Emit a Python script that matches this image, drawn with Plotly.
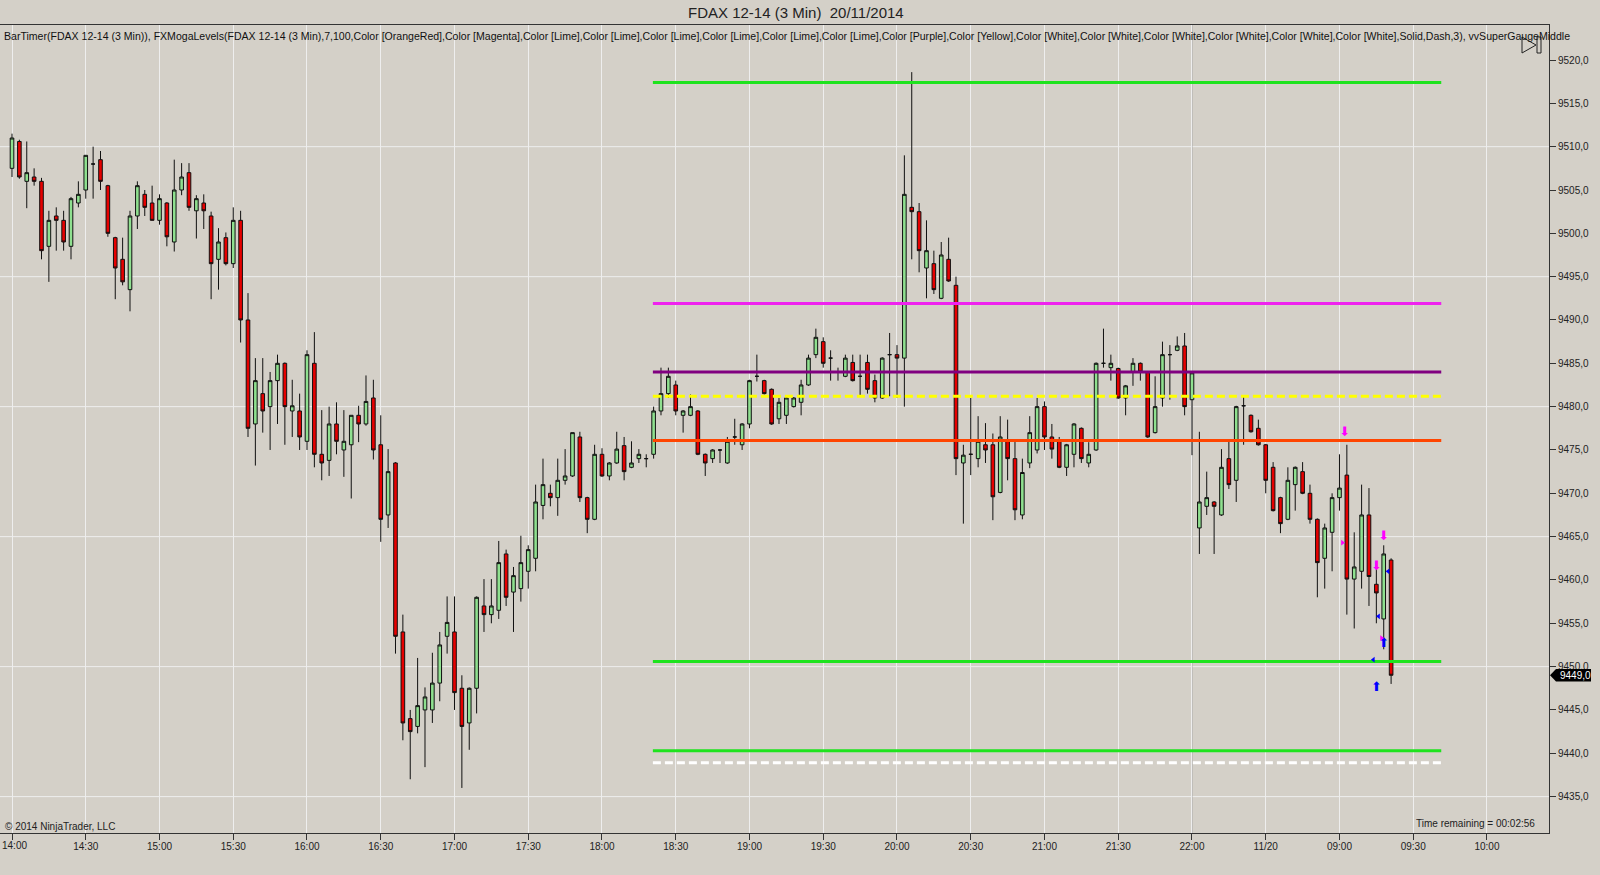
import plotly.graph_objects as go

# ---------------- data (bar index 0 = 14:00, 3-minute bars) ----------------
opens = [9507.5,9510.6,9506.0,9506.5,9506.0,9498.5,9502.0,9501.5,9498.5,9503.5,
         9505.0,9508.0,9508.5,9505.5,9499.5,9497.0,9493.5,9502.0,9504.5,9503.5,
         9501.5,9503.5,9499.0,9505.0,9507.0,9502.6,9503.5,9502.0,9497.0,9499.5,
         9496.5,9501.5,9490.0,9478.0,9481.5,9480.0,9483.0,9485.0,9479.5,9479.5,
         9476.0,9485.0,9474.5,9473.8,9478.0,9475.0,9475.6,9479.0,9478.0,9481.0,
         9475.6,9467.5,9473.5,9454.0,9444.0,9443.1,9445.0,9445.0,9448.1,9453.5,
         9454.0,9447.5,9443.5,9447.5,9457.0,9456.0,9456.5,9463.0,9458.6,9459.0,
         9461.0,9462.5,9468.6,9470.0,9469.5,9471.5,9472.0,9476.5,9469.5,9467.0,
         9474.5,9472.0,9473.5,9475.5,9473.0,9474.0,9474.0,9474.5,9479.5,9481.5,
         9482.5,9479.0,9479.0,9479.5,9474.5,9474.0,9475.0,9473.5,9476.5,9475.6,
         9478.0,9483.5,9483.0,9482.0,9478.6,9479.0,9480.0,9480.5,9482.5,9486.0,
         9487.5,9485.6,9484.0,9483.5,9485.1,9483.5,9485.1,9483.0,9481.0,9486.0,
         9486.0,9485.6,9503.0,9502.5,9496.0,9496.5,9492.5,9497.0,9494.0,9473.5,
         9474.5,9474.0,9475.6,9475.6,9470.1,9476.0,9474.0,9467.5,9473.5,9475.0,
         9480.0,9476.5,9476.0,9473.0,9474.5,9477.5,9473.5,9475.0,9485.0,9484.5,
         9484.4,9481.0,9484.0,9485.0,9484.0,9477.0,9481.0,9486.0,9486.5,9487.0,
         9480.8,9466.0,9468.5,9469.0,9467.5,9474.0,9471.5,9480.1,9479.0,9477.5,
         9475.6,9473.0,9469.5,9467.0,9471.0,9472.5,9470.0,9467.0,9462.5,9465.5,
         9469.5,9472.1,9460.1,9461.0,9467.5,9459.5,9455.5,9462.3]
highs = [9511.5,9510.8,9510.6,9507.5,9506.4,9502.6,9503.0,9502.6,9504.2,9506.0,
         9509.0,9510.0,9509.5,9505.6,9499.6,9499.5,9502.6,9506.0,9505.0,9505.5,
         9504.5,9503.6,9508.5,9508.1,9508.1,9504.4,9504.5,9502.5,9500.6,9500.1,
         9503.0,9502.6,9493.1,9485.6,9485.6,9484.0,9486.0,9485.1,9483.1,9481.5,
         9486.5,9488.6,9479.6,9480.0,9480.5,9479.6,9479.0,9480.1,9483.6,9483.1,
         9479.0,9475.1,9473.6,9456.0,9445.0,9451.0,9447.6,9451.6,9454.0,9458.1,
         9458.1,9449.0,9447.6,9458.1,9460.1,9460.1,9464.5,9463.5,9461.5,9465.1,
         9464.0,9471.0,9474.0,9471.0,9474.0,9475.1,9477.0,9477.1,9469.6,9475.6,
         9475.2,9473.6,9477.1,9476.5,9476.0,9475.1,9474.5,9480.0,9484.5,9484.5,
         9483.0,9479.6,9481.4,9479.6,9474.6,9475.1,9475.1,9476.5,9478.6,9478.1,
         9483.1,9486.0,9483.1,9482.1,9481.0,9481.1,9481.1,9483.1,9486.0,9489.0,
         9488.0,9486.5,9484.5,9486.0,9486.0,9486.0,9486.0,9483.7,9485.7,9488.5,
         9487.1,9509.0,9518.6,9503.5,9501.5,9498.0,9499.0,9499.5,9495.0,9475.6,
         9481.0,9478.9,9478.1,9476.9,9478.9,9478.5,9476.0,9474.0,9478.9,9481.0,
         9480.6,9478.0,9476.5,9475.7,9478.1,9477.6,9475.9,9485.1,9489.0,9486.0,
         9484.5,9482.5,9485.6,9485.1,9484.1,9483.5,9487.5,9487.1,9488.1,9488.5,
         9484.0,9477.1,9472.5,9469.1,9475.1,9476.0,9480.1,9481.1,9479.1,9478.5,
         9475.7,9473.6,9469.6,9473.0,9473.1,9473.6,9471.0,9467.1,9466.5,9470.0,
         9474.5,9475.6,9465.5,9471.0,9470.6,9462.0,9464.0,9462.5]
lows = [9506.5,9506.3,9502.9,9505.5,9497.0,9494.4,9498.0,9498.0,9497.0,9503.0,
        9504.0,9504.0,9505.0,9499.6,9492.4,9494.0,9491.0,9500.5,9502.0,9501.5,
        9501.0,9498.5,9497.9,9504.4,9502.6,9499.4,9500.5,9492.4,9493.5,9496.3,
        9496.0,9487.4,9476.5,9473.2,9477.0,9475.0,9478.0,9475.6,9476.5,9475.0,
        9475.0,9473.0,9471.5,9472.0,9474.5,9471.9,9469.4,9475.9,9477.8,9473.9,
        9464.4,9466.0,9451.5,9441.5,9437.0,9442.3,9438.4,9443.5,9446.0,9451.5,
        9445.0,9436.0,9440.4,9444.6,9454.0,9455.0,9455.5,9457.0,9454.0,9457.5,
        9459.0,9461.0,9467.0,9468.5,9467.4,9471.0,9471.9,9469.0,9465.4,9466.9,
        9471.9,9471.5,9473.4,9471.5,9472.9,9473.5,9473.0,9474.0,9479.0,9481.0,
        9479.0,9477.0,9478.9,9474.4,9472.0,9473.5,9473.5,9473.4,9475.6,9475.0,
        9477.5,9482.9,9481.4,9477.9,9478.0,9478.0,9479.9,9479.0,9482.4,9485.6,
        9484.5,9483.0,9483.0,9483.4,9482.9,9481.2,9481.5,9480.5,9480.9,9481.2,
        9481.0,9480.0,9497.0,9495.5,9492.5,9493.0,9492.4,9494.4,9472.1,9466.5,
        9472.1,9473.0,9473.5,9466.9,9470.0,9471.5,9466.9,9467.0,9472.9,9474.6,
        9475.0,9474.0,9472.9,9472.0,9473.0,9473.5,9473.0,9474.9,9484.5,9483.0,
        9480.9,9479.0,9482.4,9483.0,9476.4,9476.9,9480.0,9480.8,9486.4,9479.0,
        9474.4,9463.0,9467.5,9463.0,9467.4,9470.5,9469.0,9475.6,9477.0,9475.5,
        9470.0,9467.9,9465.4,9466.9,9468.0,9469.9,9466.5,9458.0,9459.0,9461.0,
        9468.0,9456.0,9454.4,9459.0,9457.0,9455.0,9452.0,9448.0]
closes = [9511.0,9506.5,9507.0,9506.0,9498.0,9501.5,9501.5,9499.0,9504.0,9504.5,
          9509.0,9508.0,9506.0,9500.0,9496.0,9494.4,9502.0,9505.5,9503.0,9501.5,
          9504.0,9499.6,9505.0,9506.5,9503.0,9504.0,9502.6,9496.5,9499.0,9496.5,
          9501.5,9490.0,9477.5,9483.0,9479.5,9483.0,9485.0,9480.0,9480.1,9476.5,
          9486.0,9474.5,9473.5,9478.0,9476.0,9476.0,9479.0,9478.0,9480.6,9475.0,
          9467.0,9472.5,9453.5,9443.5,9442.5,9445.5,9446.5,9448.1,9452.5,9455.1,
          9447.0,9443.1,9447.5,9458.0,9456.0,9457.0,9462.0,9458.0,9460.5,9462.0,
          9463.5,9469.0,9471.0,9469.5,9471.5,9472.0,9477.0,9469.5,9467.0,9474.5,
          9472.0,9473.5,9475.1,9472.5,9473.5,9474.5,9474.0,9479.5,9481.5,9483.5,
          9479.5,9479.5,9480.0,9474.5,9473.5,9475.0,9475.0,9476.0,9476.5,9478.0,
          9483.0,9483.5,9481.5,9478.0,9480.5,9481.0,9481.0,9482.5,9485.6,9488.0,
          9485.0,9485.6,9484.0,9485.6,9483.0,9483.5,9482.0,9481.0,9485.6,9486.0,
          9485.6,9504.5,9502.5,9498.0,9498.0,9493.5,9497.5,9494.5,9474.0,9474.4,
          9474.5,9476.0,9475.0,9469.6,9476.5,9474.0,9468.1,9472.4,9477.0,9480.0,
          9476.5,9475.1,9473.0,9475.6,9478.0,9474.0,9474.5,9485.0,9485.0,9485.0,
          9481.0,9482.4,9485.0,9484.0,9476.5,9480.0,9486.0,9486.0,9487.0,9480.0,
          9483.9,9469.0,9469.5,9468.5,9473.0,9471.0,9480.0,9480.1,9477.1,9475.6,
          9471.5,9468.0,9466.5,9471.5,9473.0,9470.0,9467.0,9462.0,9466.0,9469.5,
          9470.6,9460.1,9461.5,9467.5,9460.4,9458.5,9463.0,9449.0]
bar_index = list(range(len(opens)))

tick_positions = list(range(0, 201, 10))
tick_labels = ["14:00", "14:30", "15:00", "15:30", "16:00", "16:30", "17:00", "17:30",
               "18:00", "18:30", "19:00", "19:30", "20:00", "20:30", "21:00", "21:30",
               "22:00", "11/20", "09:00", "09:30", "10:00"]

# FXMogaLevels horizontal levels
level_values = [9517.4, 9491.9, 9484.0, 9481.2, 9476.1, 9450.6, 9440.3, 9438.9]
level_colors = ["#1EE31E", "#EE22EE", "#800080", "#FFFF00", "#FF4500", "#1EE31E", "#1EE31E", "#FFFFFF"]
level_dash = ["solid", "solid", "solid", "8px,4px", "solid", "solid", "solid", "8px,4px"]
level_start, level_end = 86.9, 193.8

# signal markers (bar index, price)
sig_down_magenta_x = [180.7, 185.0, 186.0]
sig_down_magenta_y = [9477.0, 9461.5, 9465.0]
sig_up_blue_x = [185.0, 186.0]
sig_up_blue_y = [9447.6, 9452.6]
sig_left_blue_x = [185.3, 184.6, 186.6]
sig_left_blue_y = [9455.8, 9450.8, 9461.0]
sig_right_magenta_x = [185.7, 180.4]
sig_right_magenta_y = [9453.3, 9464.3]

last_price = 9449.0
session_break = 160

BG = "#D4D0C8"
y_lo, y_hi = 9430.8, 9524.04
x_lo, x_hi = -1.627, 208.41

PW, PT, PB = 1549.0, 25.0, 833.0   # plot-area pixel geometry

fig = go.Figure()

fig.add_trace(go.Candlestick(
    x=bar_index, open=opens, high=highs, low=lows, close=closes,
    increasing=dict(fillcolor="#8FE08F", line=dict(color="#101010", width=1)),
    decreasing=dict(fillcolor="#E60000", line=dict(color="#101010", width=1)),
    whiskerwidth=0, showlegend=False, hoverinfo="skip"))

for v, c, d in zip(level_values, level_colors, level_dash):
    fig.add_trace(go.Scatter(x=[level_start, level_end], y=[v, v], mode="lines",
                             line=dict(color=c, width=3, dash=d),
                             showlegend=False, hoverinfo="skip"))

glyph_font = "DejaVu Sans, sans-serif"
fig.add_trace(go.Scatter(x=sig_down_magenta_x, y=sig_down_magenta_y, mode="text", text=["⬇"] * 3,
                         textfont=dict(family=glyph_font, size=13, color="#FF00FF"),
                         showlegend=False, hoverinfo="skip"))
fig.add_trace(go.Scatter(x=sig_up_blue_x, y=sig_up_blue_y, mode="text", text=["⬆"] * 2,
                         textfont=dict(family=glyph_font, size=13, color="#0000FF"),
                         showlegend=False, hoverinfo="skip"))
fig.add_trace(go.Scatter(x=sig_left_blue_x, y=sig_left_blue_y, mode="markers",
                         marker=dict(symbol="triangle-left", size=5, color="#0000FF", line=dict(width=0)),
                         showlegend=False, hoverinfo="skip"))
fig.add_trace(go.Scatter(x=sig_right_magenta_x, y=sig_right_magenta_y, mode="markers",
                         marker=dict(symbol="triangle-right", size=5, color="#FF00FF", line=dict(width=0)),
                         showlegend=False, hoverinfo="skip"))

def px(xpix):
    return xpix / PW

def py(ypix):
    return (PB - ypix) / (PB - PT)

shapes = []
for g in [9435, 9450, 9465, 9480, 9495, 9510]:
    shapes.append(dict(type="line", xref="paper", yref="y", x0=0, x1=1, y0=g, y1=g,
                       line=dict(color="#EEEEEE", width=1), layer="below"))
shapes.append(dict(type="line", xref="x", yref="paper", x0=session_break, x1=session_break,
                   y0=0, y1=1, line=dict(color="#A8A8A8", width=1), layer="below"))

# price tag on the right axis
tag_h = 0.72
shapes.append(dict(type="path", xref="paper", yref="y",
                   path=(f"M {px(1550)},{last_price} L {px(1556)},{last_price + tag_h} "
                         f"L {px(1591)},{last_price + tag_h} L {px(1591)},{last_price - tag_h} "
                         f"L {px(1556)},{last_price - tag_h} Z"),
                   fillcolor="#000000", line=dict(width=0), layer="above"))

# play/end icon in header
shapes.append(dict(type="path", xref="paper", yref="paper",
                   path=f"M {px(1522)},{py(37)} L {px(1536)},{py(45)} L {px(1522)},{py(53)} Z",
                   fillcolor="rgba(0,0,0,0)", line=dict(color="#222222", width=1), layer="above"))
shapes.append(dict(type="rect", xref="paper", yref="paper",
                   x0=px(1537), x1=px(1541), y0=py(53), y1=py(37),
                   fillcolor="rgba(0,0,0,0)", line=dict(color="#222222", width=1), layer="above"))

header = ("BarTimer(FDAX 12-14 (3 Min)), FXMogaLevels(FDAX 12-14 (3 Min),7,100,Color [OrangeRed],"
          "Color [Magenta],Color [Lime],Color [Lime],Color [Lime],Color [Lime],Color [Lime],Color [Lime],"
          "Color [Purple],Color [Yellow],Color [White],Color [White],Color [White],Color [White],"
          "Color [White],Color [White],Solid,Dash,3), vvSuperGaugeMiddle")

narrow = "Liberation Sans Narrow, Arial Narrow, Liberation Sans, Arial, sans-serif"
sans = "Liberation Sans, Arial, sans-serif"

annotations = [
    dict(text="FDAX 12-14 (3 Min)  20/11/2014", xref="paper", yref="paper",
         x=px(796), y=py(12), xanchor="center", yanchor="middle", showarrow=False,
         font=dict(family=narrow, size=15, color="#222222")),
    dict(text=header, xref="paper", yref="paper", x=px(2), y=py(36), xanchor="left",
         yanchor="middle", showarrow=False, font=dict(family=narrow, size=10.55, color="#111111")),
    dict(text="© 2014 NinjaTrader, LLC", xref="paper", yref="paper", x=px(3), y=py(826),
         xanchor="left", yanchor="middle", showarrow=False,
         font=dict(family=sans, size=10, color="#222222")),
    dict(text="Time remaining = 00:02:56", xref="paper", yref="paper", x=px(1537), y=py(823),
         xanchor="right", yanchor="middle", showarrow=False,
         font=dict(family=sans, size=10, color="#222222")),
    dict(text=f"{last_price:.1f}".replace(".", ","), xref="paper", yref="y", x=px(1558),
         y=last_price, xanchor="left", yanchor="middle", showarrow=False,
         font=dict(family=sans, size=10, color="#FFFFFF")),
    # first time label sits flush with the left edge
    dict(text=tick_labels[0], xref="paper", yref="paper", x=0, y=py(846),
         xanchor="left", yanchor="middle", showarrow=False,
         font=dict(family=sans, size=10, color="#222222")),
]

y_ticks = list(range(9435, 9521, 5))
x_ticktext = [""] + tick_labels[1:]

fig.update_layout(
    width=1600, height=875,
    margin=dict(l=0, r=1600 - PW, t=PT, b=875 - PB, autoexpand=False),
    paper_bgcolor=BG, plot_bgcolor=BG,
    showlegend=False,
    shapes=shapes, annotations=annotations,
    xaxis=dict(range=[x_lo, x_hi], tickmode="array", tickvals=tick_positions, ticktext=x_ticktext,
               showgrid=True, gridcolor="#EEEEEE", gridwidth=1, zeroline=False,
               showline=True, linecolor="#333333", linewidth=1, mirror=True,
               ticks="outside", ticklen=6, tickcolor="#333333", automargin=False,
               ticklabelstandoff=-2,
               tickfont=dict(family=sans, size=10, color="#222222"),
               rangeslider=dict(visible=False), fixedrange=True),
    yaxis=dict(range=[y_lo, y_hi], side="right", tickmode="array", tickvals=y_ticks,
               ticktext=[f"{v},0" for v in y_ticks], showgrid=False, zeroline=False,
               showline=True, linecolor="#333333", linewidth=1, mirror=True,
               ticks="outside", ticklen=6, tickcolor="#333333", automargin=False,
               tickfont=dict(family=sans, size=10, color="#222222"), fixedrange=True),
)

fig.write_html("out.html", config={"displayModeBar": False},
               post_script="document.body.style.margin='0px';document.body.style.padding='0px';")
